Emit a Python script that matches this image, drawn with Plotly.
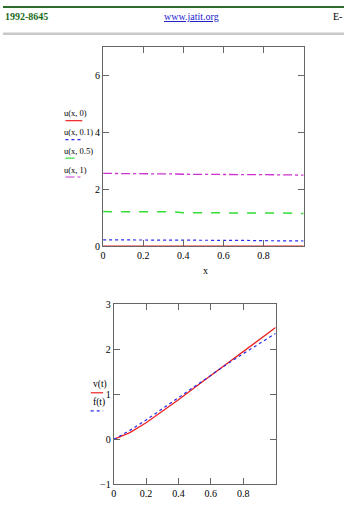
import plotly.graph_objects as go

# ---- data ----
x_top = [0, 0.1, 0.2, 0.3, 0.35, 0.4, 0.5, 0.6, 0.7, 0.8, 0.9, 1.0]
u_0 = [0, 0, 0, 0, 0, 0, 0, 0, 0, 0, 0, 0]
u_01 = [0.23, 0.23, 0.23, 0.23, 0.23, 0.22, 0.22, 0.21, 0.21, 0.2, 0.2, 0.19]
u_05 = [1.22, 1.22, 1.22, 1.21, 1.21, 1.18, 1.18, 1.18, 1.17, 1.17, 1.17, 1.15]
u_1 = [2.56, 2.56, 2.55, 2.55, 2.54, 2.53, 2.53, 2.52, 2.52, 2.51, 2.51, 2.50]
top_names = ["u(x, 0)", "u(x, 0.1)", "u(x, 0.5)", "u(x, 1)"]

t_vals = [0, 0.1, 0.2, 0.3, 0.4, 0.5, 0.6, 0.7, 0.8, 0.9, 1.0]
v_t = [0, 0.15, 0.37, 0.62, 0.88, 1.15, 1.42, 1.69, 1.96, 2.22, 2.48]
f_t = [0, 0.2, 0.43, 0.68, 0.93, 1.18, 1.43, 1.67, 1.9, 2.13, 2.35]
bot_names = ["v(t)", "f(t)"]

x_ticks = [0, 0.2, 0.4, 0.6, 0.8]
y_top_ticks = [0, 2, 4, 6]
y_bot_ticks = [-1, 0, 1, 2, 3]

W, H = 344, 512
def px(x):
    return x / W
def py(y):
    return 1 - y / H

FONT = "Liberation Serif"
RED = "#ee2222"
BLUE = "#2a2aee"
GREEN = "#33dd33"
MAG = "#cc33cc"

fig = go.Figure()
styles = [(RED, "solid", 2), (BLUE, "dot", 1.2), (GREEN, "dash", 1.5), (MAG, "dashdot", 1.3)]
for name, ys, (c, d, w) in zip(top_names, [u_0, u_01, u_05, u_1], styles):
    fig.add_trace(go.Scatter(x=x_top, y=ys, mode="lines", name=name,
                             line=dict(color=c, dash=d, width=w), xaxis="x", yaxis="y"))
bstyles = [(RED, "solid", 1.3), (BLUE, "dot", 1.2)]
for name, ys, (c, d, w) in zip(bot_names, [v_t, f_t], bstyles):
    fig.add_trace(go.Scatter(x=t_vals, y=ys, mode="lines", name=name,
                             line=dict(color=c, dash=d, width=w), xaxis="x2", yaxis="y2"))

axis_common = dict(showgrid=False, zeroline=False, showline=True, linecolor="#666",
                   linewidth=1, mirror="ticks", ticks="inside", ticklen=6, tickcolor="#666",
                   tickfont=dict(family=FONT, size=10, color="black"))

fig.update_layout(
    width=W, height=H, margin=dict(l=0, r=0, t=0, b=0),
    paper_bgcolor="white", plot_bgcolor="white", showlegend=False,
    font=dict(family=FONT),
    xaxis=dict(domain=[px(101), px(303.3)], range=[0, 1], tickvals=x_ticks,
               ticktext=["0", "0.2", "0.4", "0.6", "0.8"], anchor="y", **axis_common),
    yaxis=dict(domain=[py(246.7), py(42.7)], range=[0, 7], tickvals=y_top_ticks,
               anchor="x", ticklabelstandoff=0, **axis_common),
    xaxis2=dict(domain=[px(111.7), px(275)], range=[0, 1], tickvals=x_ticks,
                ticktext=["0", "0.2", "0.4", "0.6", "0.8"], anchor="y2", **axis_common),
    yaxis2=dict(domain=[py(490), py(305.7)], range=[-1, 3], tickvals=y_bot_ticks,
                ticktext=["\u22121", "0", "1", "2", "3"], anchor="x2", ticklabelstandoff=0, **axis_common),
)

annotations = []
shapes = []
# header
annotations.append(dict(x=0, y=py(12), xref="paper", yref="paper", xanchor="left", yanchor="middle",
                        text="<b>1992-8645</b>", showarrow=False,
                        font=dict(family=FONT, size=10, color="#1a6b1a")))
annotations.append(dict(x=px(190), y=py(12), xref="paper", yref="paper", xanchor="center", yanchor="middle",
                        text="<u>www.jatit.org</u>", showarrow=False,
                        font=dict(family=FONT, size=10, color="#2222cc")))
annotations.append(dict(x=1, y=py(12), xref="paper", yref="paper", xanchor="right", yanchor="middle",
                        text="E-", showarrow=False, font=dict(family=FONT, size=10, color="black")))
shapes.append(dict(type="line", xref="paper", yref="paper", x0=0, x1=1, y0=py(2), y1=py(2),
                   line=dict(color="#2e6b2e", width=2)))
shapes.append(dict(type="line", xref="paper", yref="paper", x0=0, x1=1, y0=py(29.5), y1=py(29.5),
                   line=dict(color="#c8c8c8", width=2.5)))

# top legend
leg_top_y = [110.7, 130, 149, 168.3]
for name, ly, (c, d, w) in zip(top_names, leg_top_y, styles):
    annotations.append(dict(x=px(61), y=py(ly), xref="paper", yref="paper", xanchor="left",
                            yanchor="middle", text=name, showarrow=False, borderpad=0,
                            font=dict(family=FONT, size=8.5, color="black")))
    shapes.append(dict(type="line", xref="paper", yref="paper", x0=px(63), x1=px(80),
                       y0=py(ly + 7.5), y1=py(ly + 7.5), line=dict(color=c, dash=d, width=1.2)))
annotations.append(dict(x=px(204), y=py(271.7), xref="paper", yref="paper", xanchor="center",
                        yanchor="middle", text="x", showarrow=False,
                        font=dict(family=FONT, size=10, color="black")))

# bottom legend
leg_bot_y = [388.3, 406.7]
for name, ly, (c, d, w) in zip(bot_names, leg_bot_y, bstyles):
    annotations.append(dict(x=px(88.5), y=py(ly), xref="paper", yref="paper", xanchor="left",
                            yanchor="middle", text=name, showarrow=False,
                            font=dict(family=FONT, size=9.5, color="black")))
    shapes.append(dict(type="line", xref="paper", yref="paper", x0=px(88.5), x1=px(101),
                       y0=py(ly + 8), y1=py(ly + 8), line=dict(color=c, dash=d, width=1.2)))

fig.update_layout(annotations=annotations, shapes=shapes)
fig.write_html("out.html")
